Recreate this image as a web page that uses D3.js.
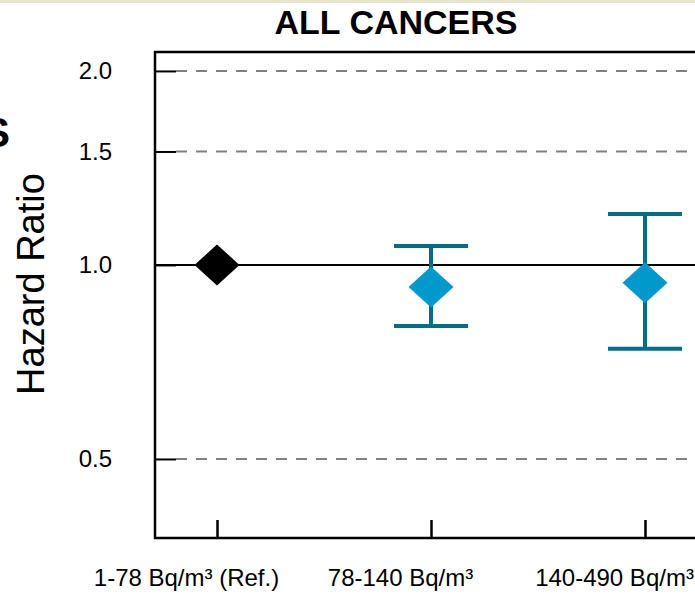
<!DOCTYPE html>
<html>
<head>
<meta charset="utf-8">
<script src="https://cdn.jsdelivr.net/npm/d3@7"></script>
<style>
  html, body { margin: 0; padding: 0; background: #fff; overflow: hidden; }
  svg { display: block; font-family: "Liberation Sans", Arial, sans-serif; }
</style>
</head>
<body>
<div id="chart"></div>
<script>
// Hazard ratios by radon exposure category (last panel is cut off at the right edge)
const categories = ["1-78 Bq/m³ (Ref.)", "78-140 Bq/m³", "140-490 Bq/m³"];
const hrValues   = [1.0, 0.924, 0.938];
const ciLower    = [null, 0.804, 0.741];
const ciUpper    = [null, 1.07, 1.20];
const yTicks     = [0.5, 1.0, 1.5, 2.0];

const width = 695, height = 594;
const plotLeft = 155, plotTop = 52, plotBottom = 538;

const svg = d3.select("#chart").append("svg")
    .attr("width", width).attr("height", height);

// thin beige strip along the top
svg.append("rect").attr("x", 0).attr("y", 0).attr("width", width).attr("height", 3)
    .attr("fill", "#e8e5cc");

// cut-off heading letter on the left
svg.append("text").attr("x", 10).attr("y", 147).attr("text-anchor", "end")
    .style("font-size", "42px").style("font-weight", "bold").text("S");

const y = d3.scaleLog().domain([0.377, 2.14]).range([plotBottom, plotTop]);
const x = d3.scalePoint().domain(categories).range([217, 645]);

// dashed reference grid
svg.append("g").selectAll("line.grid")
    .data(yTicks.filter(d => d !== 1)).join("line").attr("class", "grid")
    .attr("x1", plotLeft + 21).attr("x2", width)
    .attr("y1", d => y(d)).attr("y2", d => y(d))
    .attr("stroke", "#808080").attr("stroke-width", 2)
    .attr("stroke-dasharray", "11,9");

// solid line at HR = 1
svg.append("line")
    .attr("x1", plotLeft).attr("x2", width)
    .attr("y1", y(1)).attr("y2", y(1))
    .attr("stroke", "#000").attr("stroke-width", 2);

// y axis
const yAxis = d3.axisLeft(y).tickValues(yTicks).tickFormat(d3.format(".1f")).tickSize(-21).tickPadding(43);
const gy = svg.append("g").attr("transform", `translate(${plotLeft},0)`).call(yAxis);
gy.select(".domain").remove();
gy.selectAll(".tick line").attr("stroke", "#000").attr("stroke-width", 2);
gy.selectAll(".tick text").style("font-size", "24px").style("fill", "#000")
    .style("font-family", "'Liberation Sans', Arial, sans-serif");

// x axis (labels sit a little left of their ticks in the original)
const xAxis = d3.axisBottom(x).tickSize(-18).tickPadding(31);
const gx = svg.append("g").attr("transform", `translate(0,${plotBottom})`).call(xAxis);
gx.select(".domain").remove();
gx.selectAll(".tick line").attr("stroke", "#000").attr("stroke-width", 2.5);
gx.selectAll(".tick text").attr("x", -31).style("font-size", "24px").style("fill", "#000")
    .style("font-family", "'Liberation Sans', Arial, sans-serif");

// frame
svg.append("path")
    .attr("d", `M${width},${plotTop}H${plotLeft}V${plotBottom}H${width}`)
    .attr("fill", "none").attr("stroke", "#000").attr("stroke-width", 2.5);

// error bars
const points = categories.map((c, i) => ({ c, hr: hrValues[i], lo: ciLower[i], hi: ciUpper[i], ref: i === 0 }));
const bars = svg.append("g").selectAll("g.bar")
    .data(points.filter(d => d.lo !== null)).join("g").attr("class", "bar")
    .attr("stroke", "#006d8c").attr("stroke-width", 4);
bars.append("line")
    .attr("x1", d => x(d.c)).attr("x2", d => x(d.c))
    .attr("y1", d => y(d.lo)).attr("y2", d => y(d.hi));
bars.append("line")
    .attr("x1", d => x(d.c) - 37).attr("x2", d => x(d.c) + 37)
    .attr("y1", d => y(d.hi)).attr("y2", d => y(d.hi));
bars.append("line")
    .attr("x1", d => x(d.c) - 37).attr("x2", d => x(d.c) + 37)
    .attr("y1", d => y(d.lo)).attr("y2", d => y(d.lo));

// diamonds
const hw = 22.5, hh = 20.5;
svg.append("g").selectAll("path.pt")
    .data(points).join("path").attr("class", "pt")
    .attr("transform", d => `translate(${x(d.c)},${y(d.hr)})`)
    .attr("d", `M0,${-hh}L${hw},0L0,${hh}L${-hw},0Z`)
    .attr("fill", d => d.ref ? "#000" : "#0099cc");

// titles
svg.append("text").attr("x", 396).attr("y", 34).attr("text-anchor", "middle")
    .style("font-size", "34px").style("font-weight", "bold").text("ALL CANCERS");
svg.append("text").attr("transform", "translate(44,284) rotate(-90)")
    .attr("text-anchor", "middle").style("font-size", "38px").text("Hazard Ratio");
</script>
</body>
</html>
